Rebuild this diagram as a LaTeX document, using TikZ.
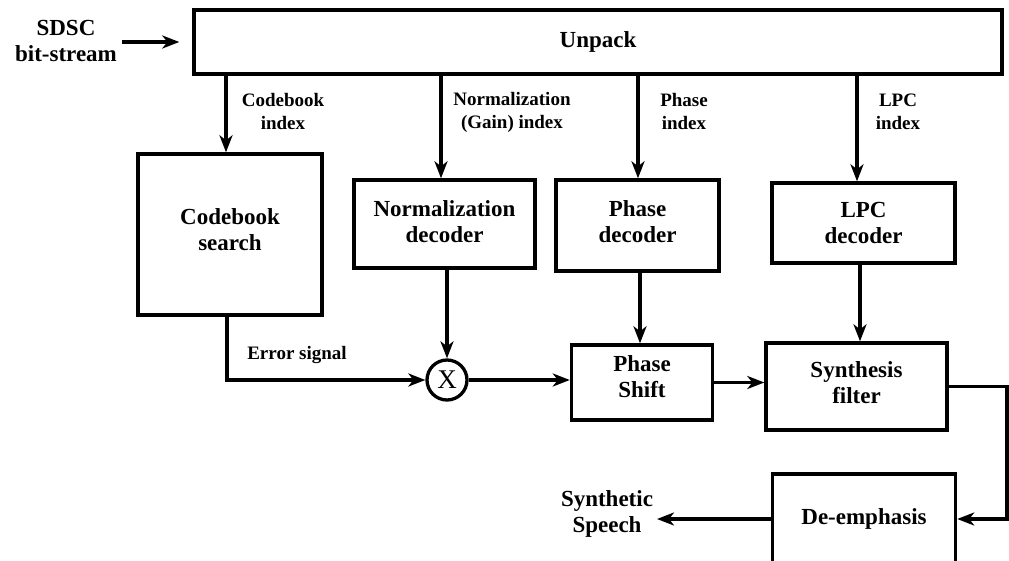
\documentclass[tikz,border=0pt]{standalone}
\usepackage{fontspec}
\setmainfont{Liberation Serif}
\usetikzlibrary{arrows.meta}
\begin{document}
\begin{tikzpicture}[x=1pt,y=-1pt,
  line width=3.3pt,
  box/.style={draw, line width=3.4pt, inner sep=0pt, align=center,
    font=\fontsize{23}{26}\selectfont\bfseries},
  boxtxt/.style={align=center, inner sep=0pt,
    font=\fontsize{23}{26}\selectfont\bfseries},
  lbl/.style={align=center, inner sep=0pt,
    font=\fontsize{19}{23}\selectfont\bfseries},
  arr/.style={-{Stealth[length=17pt,width=13pt,inset=5pt]}},
]
\useasboundingbox (0,0) rectangle (1009,561);
% blocks
\node[box, minimum width=808pt, minimum height=64pt] (up) at (598,42) {Unpack};
\node[box, minimum width=184pt, minimum height=161pt,
  label={[boxtxt, yshift=5pt]center:Codebook\\search}] (cb) at (230,234.5) {};
\node[box, minimum width=181pt, minimum height=88pt,
  label={[boxtxt, yshift=2pt]center:Normalization\\decoder}] (nd) at (444.5,224) {};
\node[box, minimum width=163pt, minimum height=91pt,
  label={[boxtxt, yshift=4pt]center:Phase\\decoder}] (pd) at (637.5,225.5) {};
\node[box, minimum width=183pt, minimum height=80pt] (ld) at (863.5,223) {LPC\\decoder};
\node[draw, circle, line width=3.3pt, minimum size=40pt, inner sep=0pt,
  font=\fontsize{27}{29}\selectfont] (mx) at (447,380) {X};
\node[box, minimum width=141pt, minimum height=75pt,
  label={[boxtxt, yshift=6pt]center:Phase\\Shift}] (ps) at (642,382.5) {};
\node[box, minimum width=181pt, minimum height=87pt,
  label={[boxtxt, yshift=4pt]center:Synthesis\\filter}] (sf) at (856.5,386.5) {};
\node[box, minimum width=183pt, minimum height=90pt] (de) at (864,519) {De-emphasis};
% texts
\node[boxtxt] (src) at (66,41) {SDSC\\bit-stream};
\node[boxtxt] (out) at (607,514) {Synthetic\\Speech};
\node[lbl] (l1) at (283,112) {Codebook\\index};
\node[lbl] (l2) at (512,112) {Normalization\\(Gain) index};
\node[lbl] (l3) at (684,112) {Phase\\index};
\node[lbl] (l4) at (898,112) {LPC\\index};
\node[lbl] (l5) at (297,355) {Error signal};
% helper points
\coordinate (inpt) at (122,42);
\coordinate (turn) at (1007,0);
\coordinate (sink) at (657,519);
% connectors
\draw[arr, shorten >=13pt] (inpt) -- (inpt -| up.west);
\draw[arr] (up.south -| 226,0) -- (226,0 |- cb.north);
\draw[arr] (up.south -| 441,0) -- (441,0 |- nd.north);
\draw[arr] (up.south -| 638,0) -- (638,0 |- pd.north);
\draw[arr] (up.south -| 857,0) -- (857,0 |- ld.north);
\draw[arr] (nd.south -| mx.north) -- (mx.north);
\draw[arr] (cb.south -| 227,0) |- (mx.west);
\draw[arr] (mx.east) -- (mx.east -| ps.west);
\draw[arr] (pd.south -| 640,0) -- (640,0 |- ps.north);
\draw[arr] (ld.south -| 860,0) -- (860,0 |- sf.north);
\draw[arr] (ps.east) -- (ps.east -| sf.west);
\draw[arr] (sf.east) -- (sf.east -| turn) |- (de.east);
\draw[arr] (de.west) -- (sink);
\end{tikzpicture}
\end{document}
